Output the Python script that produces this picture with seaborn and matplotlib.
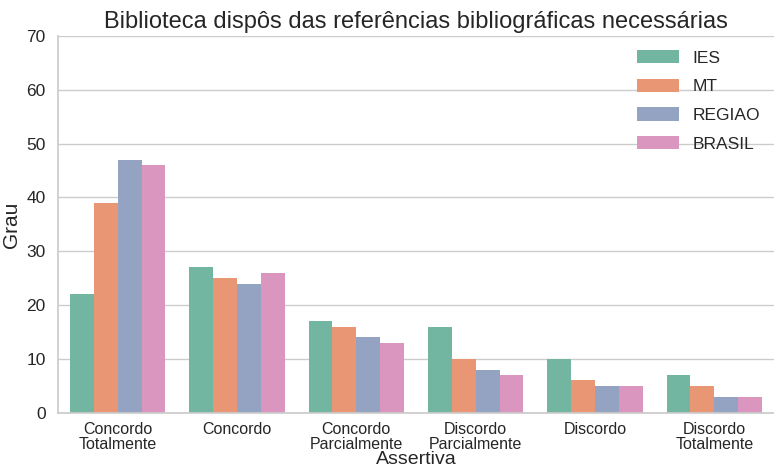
import matplotlib
matplotlib.use("Agg")
import matplotlib.pyplot as plt
import pandas as pd
import seaborn as sns

categories = ["Concordo\nTotalmente", "Concordo", "Concordo\nParcialmente",
              "Discordo\nParcialmente", "Discordo", "Discordo\nTotalmente"]
groups = ["IES", "MT", "REGIAO", "BRASIL"]
ies = [22, 27, 17, 16, 10, 7]
mt = [39, 25, 16, 10, 6, 5]
regiao = [47, 24, 14, 8, 5, 3]
brasil = [46, 26, 13, 7, 5, 3]

rows = []
for name, vals in zip(groups, [ies, mt, regiao, brasil]):
    for cat, v in zip(categories, vals):
        rows.append({"Assertiva": cat, "Grupo": name, "Grau": v})
df = pd.DataFrame(rows)

sns.set_theme(style="whitegrid", palette="Set2")
plt.rcParams["font.family"] = ["Liberation Sans", "DejaVu Sans"]

fig, ax = plt.subplots(figsize=(7.74, 4.68), dpi=100)
sns.barplot(data=df, x="Assertiva", y="Grau", hue="Grupo", palette="Set2",
            saturation=0.75, linewidth=0, ax=ax)
sns.despine(ax=ax)
ax.set_ylim(0, 70)
ax.set_title("Biblioteca dispôs das referências bibliográficas necessárias", fontsize=17)
ax.set_xlabel("Assertiva", fontsize=14)
ax.xaxis.set_label_coords(0.5, -0.102)
ax.set_ylabel("Grau", fontsize=15, labelpad=4)
ax.tick_params(axis="x", labelsize=11.5, pad=1)
ax.tick_params(axis="y", labelsize=12.5, pad=3)
for lbl in ax.get_xticklabels():
    lbl.set_linespacing(0.92)
for s in ax.spines.values():
    s.set_color("#cccccc")
ax.legend(frameon=False, fontsize=12.5, loc="upper right", title=None,
          handlelength=2.4, handleheight=0.8, labelspacing=0.75,
          borderaxespad=0.4)
fig.subplots_adjust(left=0.075, right=1.0, top=0.923, bottom=0.118)
fig.savefig("out.png", dpi=100)
